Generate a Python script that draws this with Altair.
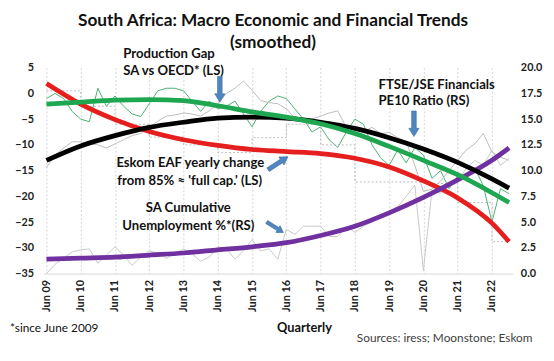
import altair as alt
import pandas as pd

# ---------------- data ----------------
tick_labels = ["Jun 09", "Jun 10", "Jun 11", "Jun 12", "Jun 13", "Jun 14", "Jun 15",
               "Jun 16", "Jun 17", "Jun 18", "Jun 19", "Jun 20", "Jun 21", "Jun 22"]
tick_q = [0, 4, 8, 12, 16, 20, 24, 28, 32, 36, 40, 44, 48, 52]

quarters = list(range(55))          # Jun 09 ... Dec 22, quarterly index
smooth_q = [0, 4, 8, 12, 16, 20, 24, 28, 32, 36, 40, 44, 48, 52, 54]

# left scale (LS)
prod_gap_smooth = [-2.1, -1.7, -1.3, -1.2, -1.4, -2.4, -3.6, -4.6, -5.9, -7.8, -10.3, -13.0, -15.8, -19.3, -21.2]
eskom_smooth = [1.9, -2.1, -5.1, -7.4, -9.0, -10.1, -10.9, -11.3, -11.7, -12.6, -14.3, -17.0, -20.3, -25.2, -28.8]
prod_gap_raw = [-1.0, 0.0, -1.0, -3.5, -5.0, -5.5, 1.0, -2.5, -0.5, -2.5,
                -4.0, -4.5, -2.0, 0.5, 1.0, 1.0, 0.5, -1.5, -3.5, -1.5,
                -3.0, -2.5, -1.5, -4.0, -6.5, -3.5, -1.5, -0.5, -1.0, -3.0,
                -5.0, -7.5, -6.5, -9.0, -10.5, -7.5, -5.0, -6.0, -10.0, -12.5,
                -14.0, -11.0, -13.5, -10.5, -12.0, -16.5, -15.0, -18.5, -16.0, -16.5,
                -14.5, -18.0, -25.0, -18.5, -19.5]
eskom_raw_q = [0, 4, 8, 12, 16, 20, 24, 28, 32, 36, 40, 44, 48, 52, 54]
eskom_raw = [0.5, -2.5, -6.0, -8.5, -10.0, -11.5, -8.6, -6.0, -10.0, -17.2, -17.2, -17.5, -21.2, -28.8, -28.8]

# right scale (RS)
ftse_smooth = [11.0, 12.4, 13.4, 14.2, 14.7, 15.1, 15.2, 15.1, 14.7, 14.1, 13.2, 12.1, 10.8, 9.2, 8.3]
unemp_smooth = [1.4, 1.5, 1.6, 1.8, 2.0, 2.3, 2.6, 3.0, 3.7, 4.6, 5.9, 7.4, 9.1, 11.0, 12.2]
ftse_raw = [10.3, 11.5, 12.2, 12.8, 12.8, 12.6, 12.5, 12.2, 12.6, 13.0,
            13.4, 13.6, 14.2, 14.8, 15.3, 15.4, 15.6, 15.5, 15.3, 15.8,
            16.5, 17.5, 18.0, 18.7, 17.8, 16.8, 16.6, 16.5, 16.0, 15.1,
            14.8, 15.0, 15.3, 15.6, 15.8, 14.2, 14.0, 13.8, 14.2, 13.6,
            13.7, 13.2, 12.8, 10.5, 8.0, 8.2, 9.0, 10.0, 11.0, 12.0,
            12.6, 13.6, 11.8, 11.3, 11.0]
unemp_raw = [0.0, 0.9, 1.5, 2.1, 2.3, 2.4, 1.0, 1.8, 2.6, 1.8,
             0.8, 1.6, 2.2, 2.0, 1.5, 1.9, 2.4, 1.9, 1.2, 1.6,
             2.6, 2.4, 1.4, 2.2, 3.3, 2.2, 2.4, 1.4, 4.3, 3.8,
             4.6, 4.6, 4.6, 3.6, 3.6, 4.6, 4.0, 4.6, 5.0, 5.5,
             6.0, 6.5, 7.5, 8.6, 0.3, 8.1, 7.8, 8.5, 9.1, 10.2,
             11.0, 10.5, 12.0, 10.5, 11.2]

left_ticks = [5, 0, -5, -10, -15, -20, -25, -30, -35]
right_ticks = [0, 2.5, 5, 7.5, 10, 12.5, 15, 17.5, 20]

# ---------------- helpers ----------------
FONT = "Lato"
W, H = 476, 209

def df(qs, vals):
    return pd.DataFrame({"q": qs, "v": vals})

label_arr = "[" + ",".join("'%s'" % t for t in tick_labels) + "]"
x_enc = alt.X(
    "q:Q",
    scale=alt.Scale(domain=[-0.35, 54.4], nice=False, zero=False),
    axis=alt.Axis(values=tick_q, labelExpr=label_arr + "[round(datum.value/4)]",
                  labelAngle=-90, labelAlign="right", labelBaseline="middle",
                  labelFont=FONT, labelFontWeight="bold", labelFontSize=11,
                  labelColor="#222", labelPadding=6, ticks=False,
                  grid=True, gridColor="#D4D4D4", gridDash=[2, 2], gridWidth=1,
                  domain=True, domainColor="#D9D9D9", title=None),
)

lscale = alt.Scale(domain=[-35, 5], nice=False, zero=False)
rscale = alt.Scale(domain=[0, 20], nice=False, zero=False)

y_left_axis = alt.Y("v:Q", scale=lscale,
                    axis=alt.Axis(orient="left", values=left_ticks, grid=False, ticks=False,
                                  domain=False, labelFont=FONT, labelFontWeight="bold",
                                  labelFontSize=11, labelColor="#222", labelPadding=10,
                                  title=None))
y_right_axis = alt.Y("v:Q", scale=rscale,
                     axis=alt.Axis(orient="right", values=right_ticks, format=".1f", grid=False,
                                   ticks=False, domain=False, labelFont=FONT,
                                   labelFontWeight="bold", labelFontSize=11,
                                   labelColor="#222", labelPadding=8, title=None))
y_left = alt.Y("v:Q", scale=lscale, axis=None)
y_right = alt.Y("v:Q", scale=rscale, axis=None)

def line(data, y, color, width, dash=None, interp="linear"):
    kw = dict(color=color, strokeWidth=width, interpolate=interp)
    if dash:
        kw["strokeDash"] = dash
    return alt.Chart(data).mark_line(**kw).encode(x=x_enc, y=y)

dummy = pd.DataFrame({"a": [0]})

def txt(s, px, py, size=13, weight="bold", align="left", color="#111"):
    return alt.Chart(dummy).mark_text(text=s, font=FONT, fontSize=size, fontWeight=weight,
                                      align=align, baseline="middle", color=color).encode(
        x=alt.value(px), y=alt.value(py))

ARROW = "M-0.18,-1 L0.18,-1 L0.18,0.35 L0.4,0.35 L0,1 L-0.4,0.35 L-0.18,0.35 Z"

def arrow(px, py, angle, size):
    return alt.Chart(dummy).mark_point(shape=ARROW, filled=True, fill="#4F86C0",
                                       stroke="#3B6C9E", strokeWidth=0.6, opacity=1,
                                       angle=angle, size=size).encode(
        x=alt.value(px), y=alt.value(py))

layers = [
    line(df(quarters, prod_gap_raw), y_left_axis, "#4DB173", 1),
    line(df(quarters, ftse_raw), y_right_axis, "#BDBDBD", 1),
    line(df(quarters, unemp_raw), y_right, "#C8C8C8", 1),
    line(df(eskom_raw_q, eskom_raw), y_left, "#BDBDBD", 1, dash=[2, 2], interp="step-after"),
    line(df(smooth_q, eskom_smooth), y_left, "#E51E1E", 4.8, interp="monotone"),
    line(df(smooth_q, unemp_smooth), y_right, "#7030A0", 4.8, interp="monotone"),
    line(df(smooth_q, ftse_smooth), y_right, "#000000", 4.8, interp="monotone"),
    line(df(smooth_q, prod_gap_smooth), y_left, "#1EA750", 4.8, interp="monotone"),
    # titles and annotations
    txt("South Africa: Macro Economic and Financial Trends", 233, -47, size=17.5, align="center"),
    txt("(smoothed)", 233, -25, size=17.5, align="center"),
    txt("Production Gap", 81, -14, size=13.3),
    txt("SA vs OECD* (LS)", 81, 3, size=13.3),
    txt("FTSE/JSE Financials", 340, 18, size=13.3),
    txt("PE10 Ratio (RS)", 340, 34, size=13.3),
    txt("Eskom EAF yearly change", 74, 97, size=13.3),
    txt("from 85% \u2248 'full cap.' (LS)", 75, 115, size=13.3),
    txt("SA Cumulative", 147, 143, size=13.3, align="center"),
    txt("Unemployment %*(RS)", 147, 161, size=13.3, align="center"),
    txt("*since June 2009", -34, 264, size=12, weight="normal"),
    txt("Quarterly", 237, 264, size=13),
    txt("Sources: iress; Moonstone; Eskom", 318, 274, size=12, weight="normal", color="#404040"),
    arrow(179, 22, 0, 676),
    arrow(376, 57, 0, 676),
    arrow(238, 97, 237, 576),
    arrow(235, 162, 302, 400),
]

chart = alt.layer(*layers).resolve_scale(y="independent").properties(
    width=W, height=H,
    autosize=alt.AutoSizeParams(type="none"),
    padding={"left": 36, "top": 58, "right": 34, "bottom": 74},
    background="white",
).configure_view(stroke=None)

chart.save("out.html", embed_options={"renderer": "svg", "actions": False})
